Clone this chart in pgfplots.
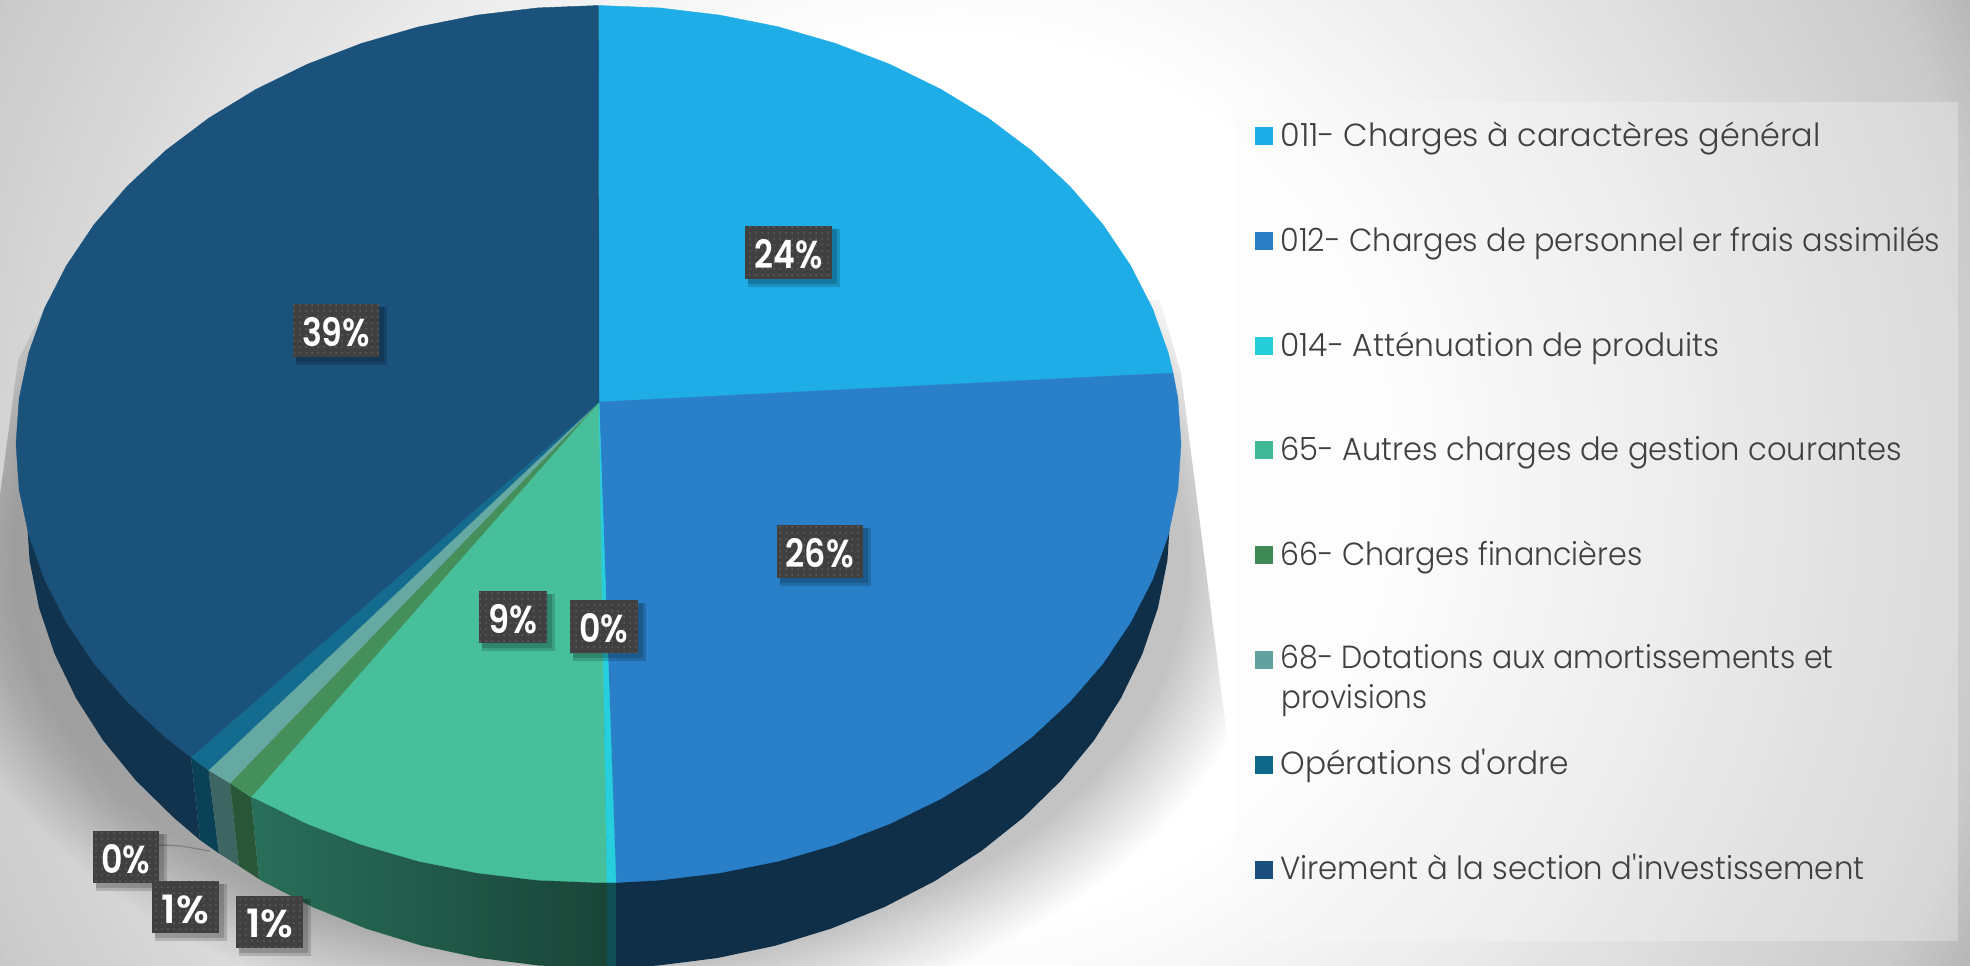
\documentclass[border=0pt]{standalone}
\usepackage{pgfplots}
\pgfplotsset{compat=1.18}
\usepackage{fontspec}
\usepackage{graphicx}
\usetikzlibrary{patterns}
\newfontfamily\lgf{Poppins Light}
\newfontfamily\lbf{Poppins SemiBold}
\setmainfont{Poppins}
\definecolor{cA}{HTML}{1EADE6}
\definecolor{cB}{HTML}{2980C8}
\definecolor{cC}{HTML}{27CEDB}
\definecolor{cD}{HTML}{46BF9A}
\definecolor{cE}{HTML}{458F5A}
\definecolor{cF}{HTML}{66A8A2}
\definecolor{cG}{HTML}{136C8F}
\definecolor{cH}{HTML}{1B527C}
\definecolor{lA}{HTML}{1AADE7}
\definecolor{lB}{HTML}{2A7FC4}
\definecolor{lC}{HTML}{25CED9}
\definecolor{lD}{HTML}{41B996}
\definecolor{lE}{HTML}{3F8957}
\definecolor{lF}{HTML}{62A29E}
\definecolor{lG}{HTML}{0F678A}
\definecolor{lH}{HTML}{1A4F7B}
\definecolor{txt}{HTML}{404040}
\definecolor{boxc}{HTML}{404040}
\definecolor{boxd}{HTML}{5E5E5E}
\newcommand{\lab}[6]{%
  \fill[black,opacity=.16] (axis cs:#1+3,#2+3) rectangle (axis cs:#3+8,#4+8);
  \fill[black,opacity=.16] (axis cs:#1+3,#2+3) rectangle (axis cs:#3+5,#4+5);
  \fill[boxc] (axis cs:#1,#2) rectangle (axis cs:#3,#4);
  \fill[pattern=dots,pattern color=boxd] (axis cs:#1,#2) rectangle (axis cs:#3,#4);
  \node[white,inner sep=0pt,anchor=center] at (axis cs:#1/2+#3/2,#2/2+#4/2+2) {\resizebox{#6pt}{\height}{\lbf\fontsize{19.5}{19.5}\selectfont #5}};
}
\newcommand{\leg}[5]{%
  \fill[#1] (axis cs:1255,#2) rectangle (axis cs:1273,#2+18);
  \node[txt,inner sep=0pt,anchor=base west] at (axis cs:1280,#3) {\resizebox{#4pt}{\height}{\lgf\fontsize{16}{16}\selectfont #5}};
}
\begin{document}
\begin{tikzpicture}
% slide background, pie shadow and legend panel, in pixel units
\begin{scope}[yshift=482.5pt,x=.5pt,y=-.5pt]
\clip (0,0) rectangle (1970,965);
\fill[black!30] (0,0) rectangle (1970,965);
\foreach \r in {1200,1190,...,450}{
  \pgfmathsetmacro{\g}{\r>1064 ? 21+(\r-1064)*7/66 : (\r>700 ? 8+(\r-700)*13/364 : (\r-450)*8/250)}
  \fill[black!\g] (950,480) ellipse [x radius=\r,y radius=\r];
}
\begin{scope}
\clip (46,305) -- (1160,300) -- (1181,373) -- (1230,760) -- (1230,1000) -- (-60,1000) -- (-30,720) -- (18,360) -- cycle;
\foreach \k in {0,...,19}{
  \pgfmathsetmacro{\a}{590+\k*4.7}
  \pgfmathsetmacro{\b}{400+\k*4}
  \fill[black,opacity=.011] (600,560) ellipse [x radius=\a,y radius=\b];
}
\end{scope}
\fill[black!2,opacity=.3] (1234,102) rectangle (1958,941);
\end{scope}
\begin{axis}[at={(0,0)},anchor=south west,scale only axis,width=985pt,height=482.5pt,xmin=0,xmax=1970,ymin=0,ymax=965,y dir=reverse,hide axis,clip=true]
% sides of the pie
\addplot[draw=none,left color=cH!62!black,right color=cH!62!black] coordinates {(26.5,513)(29.6,560.5)(39,607.6)(54.5,653.6)(76,698)(103.1,740.5)(135.8,780.4)(173.5,817.4)(200,840)(191,757)(300,500)} --cycle;
\addplot[fill=cG!60!black,draw=none] coordinates {(200,840)(219,853.5)(208.5,770)(191,757)} --cycle;
\addplot[fill=cF!60!black,draw=none] coordinates {(219,853.5)(239,866)(230,783)(208.5,770)} --cycle;
\addplot[fill=cE!60!black,draw=none] coordinates {(239,866)(259,879)(251,797)(230,783)} --cycle;
\addplot[draw=none,left color=cD!58!black,right color=cD!36!black] coordinates {(259,879)(262.3,881.1)(312.5,907)(365.9,928.6)(421.8,945.7)(479.6,958)(538.7,965.5)(598.5,968)(607,968)(607,700)(400,700)(251,797)} --cycle;
\addplot[fill=cC!38!black,draw=none] coordinates {(607,968)(616,968)(616,700)(607,700)} --cycle;
\addplot[fill=cB!36!black,draw=none] coordinates {(616,968)(658.3,965.5)(717.4,958)(775.2,945.7)(831.1,928.6)(884.5,907)(934.7,881.1)(981.2,851.1)(1023.5,817.4)(1061.2,780.4)(1093.9,740.5)(1121,698)(1142.5,653.6)(1158,607.6)(1167.4,560.5)(1170.5,513)(1100,500)(616,700)} --cycle;
% top face
\addplot[fill=cA,draw=cA,line width=.2pt] coordinates {(599,402)(598.5,5.5)(659.4,7.9)(719.6,15.1)(778.5,26.9)(835.4,43.4)(889.8,64.3)(940.9,89.3)(988.3,118.2)(1031.4,150.6)(1069.7,186.2)(1103,224.7)(1130.6,265.7)(1152.5,308.5)(1168.2,352.8)(1173,373)} --cycle;
\addplot[fill=cB,draw=cB,line width=.2pt] coordinates {(599,402)(1173,373)(1177.8,398.2)(1181,444)(1177.8,489.8)(1168.2,535.2)(1152.5,579.5)(1130.6,622.3)(1103,663.3)(1069.7,701.8)(1031.4,737.4)(988.3,769.8)(940.9,798.7)(889.8,823.7)(835.4,844.6)(778.5,861.1)(719.6,872.9)(659.4,880.1)(616,882.5)} --cycle;
\addplot[fill=cD,draw=cD,line width=.2pt] coordinates {(599,402)(607,882.5)(598.5,882.5)(537.6,880.1)(477.4,872.9)(418.5,861.1)(361.6,844.6)(307.2,823.7)(256.1,798.7)(251,797)} --cycle;
\addplot[fill=cC,draw=cC,line width=.2pt] coordinates {(599,402)(616,882.5)(607,882.5)} --cycle;
\addplot[fill=cE,draw=cE,line width=.2pt] coordinates {(599,402)(251,797)(230,783)} --cycle;
\addplot[fill=cF,draw=cF,line width=.2pt] coordinates {(599,402)(230,783)(208.5,770)} --cycle;
\addplot[fill=cG,draw=cG,line width=.2pt] coordinates {(599,402)(208.5,770)(191,757)} --cycle;
\addplot[fill=cH,draw=cH,line width=.2pt] coordinates {(599,402)(191,757)(165.6,737.4)(127.3,701.8)(94,663.3)(66.4,622.3)(44.5,579.5)(28.8,535.2)(19.2,489.8)(16,444)(19.2,398.2)(28.8,352.8)(44.5,308.5)(66.4,265.7)(94,224.7)(127.3,186.2)(165.6,150.6)(208.7,118.2)(256.1,89.3)(307.2,64.3)(361.6,43.4)(418.5,26.9)(477.4,15.1)(537.6,7.9)(598.5,5.5)} --cycle;
% leader line
\addplot[smooth,black!50,line width=.6pt] coordinates {(159,845)(180,846)(210,851)};
% data labels
\lab{745}{226}{832}{279}{24\%}{34}
\lab{776.5}{525}{863}{578}{26\%}{34}
\lab{293}{304}{379}{357}{39\%}{34}
\lab{479}{591}{547}{643}{9\%}{24.5}
\lab{570}{600}{638}{653}{0\%}{24.5}
\lab{93}{831}{159}{883}{0\%}{24.5}
\lab{152}{881}{219}{933}{1\%}{23.5}
\lab{236}{896}{303}{948}{1\%}{23.5}
% legend
\leg{lA}{127}{146}{270}{011- Charges à caractères général}
\leg{lB}{232}{251}{330}{012- Charges de personnel er frais assimilés}
\leg{lC}{337}{356}{219.5}{014- Atténuation de produits}
\leg{lD}{441}{460}{311}{65- Autres charges de gestion courantes}
\leg{lE}{546}{565}{181}{66- Charges financières}
\leg{lF}{651}{668}{276.5}{68- Dotations aux amortissements et}
\node[txt,inner sep=0pt,anchor=base west] at (axis cs:1281,708) {\resizebox{73pt}{\height}{\lgf\fontsize{16}{16}\selectfont provisions}};
\leg{lG}{756}{774}{144.5}{Opérations d'ordre}
\leg{lH}{861}{879}{292}{Virement à la section d'investissement}
\end{axis}
\pgfresetboundingbox
\path[use as bounding box] (0,0) rectangle (985pt,482.5pt);
\end{tikzpicture}
\end{document}
